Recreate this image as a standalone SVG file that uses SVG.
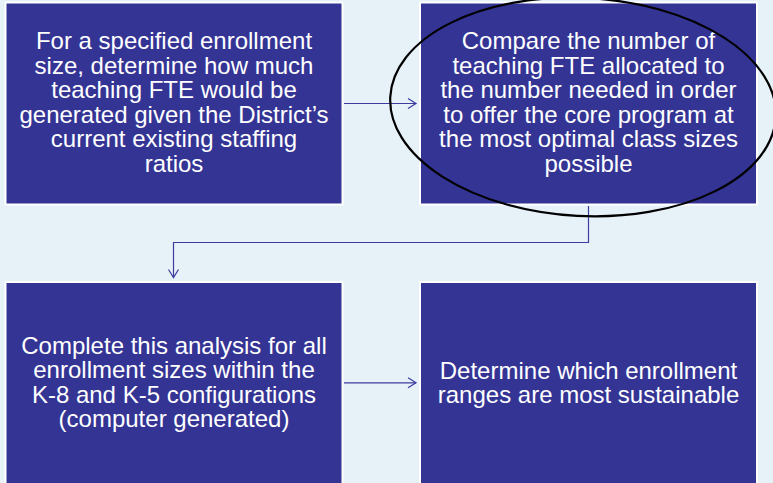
<svg xmlns="http://www.w3.org/2000/svg" width="773" height="483" viewBox="0 0 773 483">
<defs>
<style>
.box{fill:#343495;stroke:#ffffff;stroke-width:2}
.t{font-family:"Liberation Sans",Arial,sans-serif;font-size:24px;fill:#ffffff;text-anchor:middle}
.c{fill:none;stroke:#3c3ca0;stroke-width:1.2}
</style>
<marker id="ah" markerWidth="12" markerHeight="12" refX="9" refY="6" orient="auto" markerUnits="userSpaceOnUse">
<path d="M1,1 L9,6 L1,11" fill="none" stroke="#3c3ca0" stroke-width="1.2"/>
</marker>
</defs>
<rect width="773" height="483" fill="#e7f1f8"/>
<g id="node1">
<rect class="box" x="5.5" y="2.5" width="337" height="202"/>
<text class="t"><tspan x="174" y="49">For a specified enrollment</tspan><tspan x="174" y="73.6">size, determine how much</tspan><tspan x="174" y="98.2">teaching FTE would be</tspan><tspan x="174" y="122.8">generated given the District’s</tspan><tspan x="174" y="147.4">current existing staffing</tspan><tspan x="174" y="172">ratios</tspan></text>
</g>
<g id="node2">
<rect class="box" x="420" y="2.5" width="337" height="202"/>
<text class="t"><tspan x="588.5" y="49">Compare the number of</tspan><tspan x="588.5" y="73.6">teaching FTE allocated to</tspan><tspan x="588.5" y="98.2">the number needed in order</tspan><tspan x="588.5" y="122.8">to offer the core program at</tspan><tspan x="588.5" y="147.4">the most optimal class sizes</tspan><tspan x="588.5" y="172">possible</tspan></text>
</g>
<g id="node3">
<rect class="box" x="5.5" y="282" width="337" height="210"/>
<text class="t"><tspan x="174" y="353.5">Complete this analysis for all</tspan><tspan x="174" y="378.1">enrollment sizes within the</tspan><tspan x="174" y="402.7">K-8 and K-5 configurations</tspan><tspan x="174" y="427.3">(computer generated)</tspan></text>
</g>
<g id="node4">
<rect class="box" x="420" y="282" width="337" height="210"/>
<text class="t"><tspan x="588.5" y="378.5">Determine which enrollment</tspan><tspan x="588.5" y="403">ranges are most sustainable</tspan></text>
</g>
<g id="connectors">
<path class="c" d="M344,103.5 L416,103.5" marker-end="url(#ah)"/>
<path class="c" d="M588.5,206 L588.5,242.5 L173.5,242.5 L173.5,277.5" marker-end="url(#ah)"/>
<path class="c" d="M344,382.8 L416,382.8" marker-end="url(#ah)"/>
</g>
<g id="highlight">
<ellipse cx="583" cy="107" rx="193" ry="109" transform="rotate(3 583 107)" fill="none" stroke="#000000" stroke-width="2.2"/>
</g>
</svg>
